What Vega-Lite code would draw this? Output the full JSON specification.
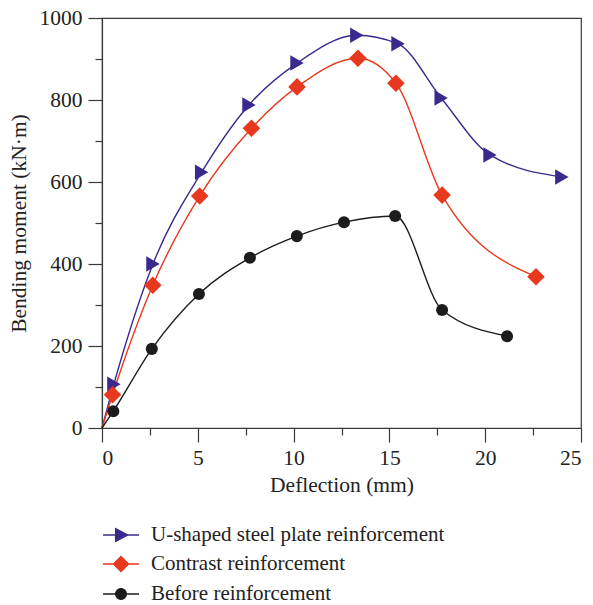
{
  "$schema": "https://vega.github.io/schema/vega-lite/v6.json",
  "width": 479,
  "height": 410,
  "autosize": {"type": "none"},
  "padding": {"left": 102, "top": 18, "right": 12, "bottom": 177},
  "background": "white",
  "config": {
    "view": {"stroke": "#3a3a3a", "strokeWidth": 1.2},
    "font": "Liberation Serif",
    "axis": {
      "labelFont": "Liberation Serif",
      "titleFont": "Liberation Serif",
      "labelFontSize": 21.5,
      "titleFontSize": 21.5,
      "titleFontWeight": "normal",
      "labelColor": "#222",
      "titleColor": "#222",
      "domainColor": "#3a3a3a",
      "tickColor": "#3a3a3a",
      "domainWidth": 1.2,
      "tickWidth": 1.2,
      "grid": false
    },
    "legend": {
      "labelFont": "Liberation Serif",
      "labelFontSize": 21,
      "labelColor": "#222",
      "labelLimit": 400
    }
  },
  "data": {
    "values": [
      {"series": "U-shaped steel plate reinforcement", "x": 0, "y": 0},
      {"series": "U-shaped steel plate reinforcement", "x": 0.62, "y": 107},
      {"series": "U-shaped steel plate reinforcement", "x": 2.66, "y": 400},
      {"series": "U-shaped steel plate reinforcement", "x": 5.2, "y": 624},
      {"series": "U-shaped steel plate reinforcement", "x": 7.67, "y": 788},
      {"series": "U-shaped steel plate reinforcement", "x": 10.18, "y": 890},
      {"series": "U-shaped steel plate reinforcement", "x": 13.3, "y": 958},
      {"series": "U-shaped steel plate reinforcement", "x": 15.45, "y": 937},
      {"series": "U-shaped steel plate reinforcement", "x": 17.7, "y": 805},
      {"series": "U-shaped steel plate reinforcement", "x": 20.25, "y": 666},
      {"series": "U-shaped steel plate reinforcement", "x": 24.0, "y": 612},
      {"series": "Contrast reinforcement", "x": 0, "y": 0},
      {"series": "Contrast reinforcement", "x": 0.55, "y": 81},
      {"series": "Contrast reinforcement", "x": 2.65, "y": 348},
      {"series": "Contrast reinforcement", "x": 5.1, "y": 566},
      {"series": "Contrast reinforcement", "x": 7.8, "y": 731},
      {"series": "Contrast reinforcement", "x": 10.18, "y": 832},
      {"series": "Contrast reinforcement", "x": 13.36, "y": 902},
      {"series": "Contrast reinforcement", "x": 15.34, "y": 841},
      {"series": "Contrast reinforcement", "x": 17.75, "y": 568},
      {"series": "Contrast reinforcement", "x": 22.65, "y": 369},
      {"series": "Before reinforcement", "x": 0, "y": 0},
      {"series": "Before reinforcement", "x": 0.59, "y": 41},
      {"series": "Before reinforcement", "x": 2.6, "y": 193},
      {"series": "Before reinforcement", "x": 5.06, "y": 327},
      {"series": "Before reinforcement", "x": 7.72, "y": 415},
      {"series": "Before reinforcement", "x": 10.17, "y": 468},
      {"series": "Before reinforcement", "x": 12.63, "y": 502},
      {"series": "Before reinforcement", "x": 15.3, "y": 517},
      {"series": "Before reinforcement", "x": 17.75, "y": 288},
      {"series": "Before reinforcement", "x": 21.14, "y": 224}
    ]
  },
  "resolve": {"axis": {"x": "independent", "y": "independent"}},
  "encoding": {
    "color": {"field": "series", "type": "nominal",
      "scale": {"domain": ["U-shaped steel plate reinforcement", "Contrast reinforcement", "Before reinforcement"],
                "range": ["#3b2a8e", "#e8381e", "#1c1c1c"]},
      "legend": {
        "title": null, "orient": "none", "legendX": 0, "legendY": 498, "direction": "vertical",
        "padding": 0, "symbolSize": 1296, "rowPadding": -7.5, "labelOffset": 11, "symbolStrokeWidth": 1.3,
        "encode": {
          "symbols": {
            "update": {
              "shape": {"signal": "datum.value === 'U-shaped steel plate reinforcement' ? 'M-1,0H1M-0.3,-0.36L0.38,0L-0.3,0.36Z' : datum.value === 'Contrast reinforcement' ? 'M-1,0H1M-0.42,0L0,-0.42L0.42,0L0,0.42Z' : 'M-1,0H1M-0.3,0A0.3,0.3 0 1,0 0.3,0A0.3,0.3 0 1,0 -0.3,0Z'"},
              "stroke": {"signal": "scale('color', datum.value)"},
              "fill": {"signal": "scale('color', datum.value)"},
              "opacity": {"value": 1}
            }
          }
        }
      }}
  },
  "layer": [
    {
      "mark": {"type": "line", "interpolate": "monotone", "strokeWidth": 1.4},
      "encoding": {
        "x": {"field": "x", "type": "quantitative", "scale": {"domain": [0, 25], "nice": false},
          "axis": {"orient": "bottom", "title": null, "values": [2.5, 7.5, 12.5, 17.5, 22.5], "labels": false, "tickSize": 7, "domain": false}},
        "y": {"field": "y", "type": "quantitative", "scale": {"domain": [0, 1000], "nice": false},
          "axis": {"orient": "left", "title": null, "values": [100, 300, 500, 700, 900], "labels": false, "tickSize": 7, "domain": false}},
        "detail": {"field": "series"}
      }
    },
    {
      "transform": [{"filter": "datum.x > 0 && datum.series === 'U-shaped steel plate reinforcement'"}],
      "mark": {"type": "point", "filled": true, "opacity": 1, "shape": "triangle-right", "size": 240},
      "encoding": {
        "x": {"field": "x", "type": "quantitative",
          "axis": {"orient": "bottom", "title": "Deflection (mm)", "values": [0, 5, 10, 15, 20, 25], "tickSize": 14, "labelPadding": 5, "titlePadding": 6}},
        "y": {"field": "y", "type": "quantitative",
          "axis": {"orient": "left", "title": "Bending moment (kN·m)", "format": "d", "values": [0, 200, 400, 600, 800, 1000], "tickSize": 14, "labelPadding": 6, "titlePadding": 9}}
      }
    },
    {
      "transform": [{"filter": "datum.x > 0 && datum.series === 'Contrast reinforcement'"}],
      "mark": {"type": "point", "filled": true, "opacity": 1, "shape": "diamond", "size": 310},
      "encoding": {
        "x": {"field": "x", "type": "quantitative", "axis": null},
        "y": {"field": "y", "type": "quantitative", "axis": null}
      }
    },
    {
      "transform": [{"filter": "datum.x > 0 && datum.series === 'Before reinforcement'"}],
      "mark": {"type": "point", "filled": true, "opacity": 1, "shape": "circle", "size": 145},
      "encoding": {
        "x": {"field": "x", "type": "quantitative", "axis": null},
        "y": {"field": "y", "type": "quantitative", "axis": null}
      }
    }
  ]
}
